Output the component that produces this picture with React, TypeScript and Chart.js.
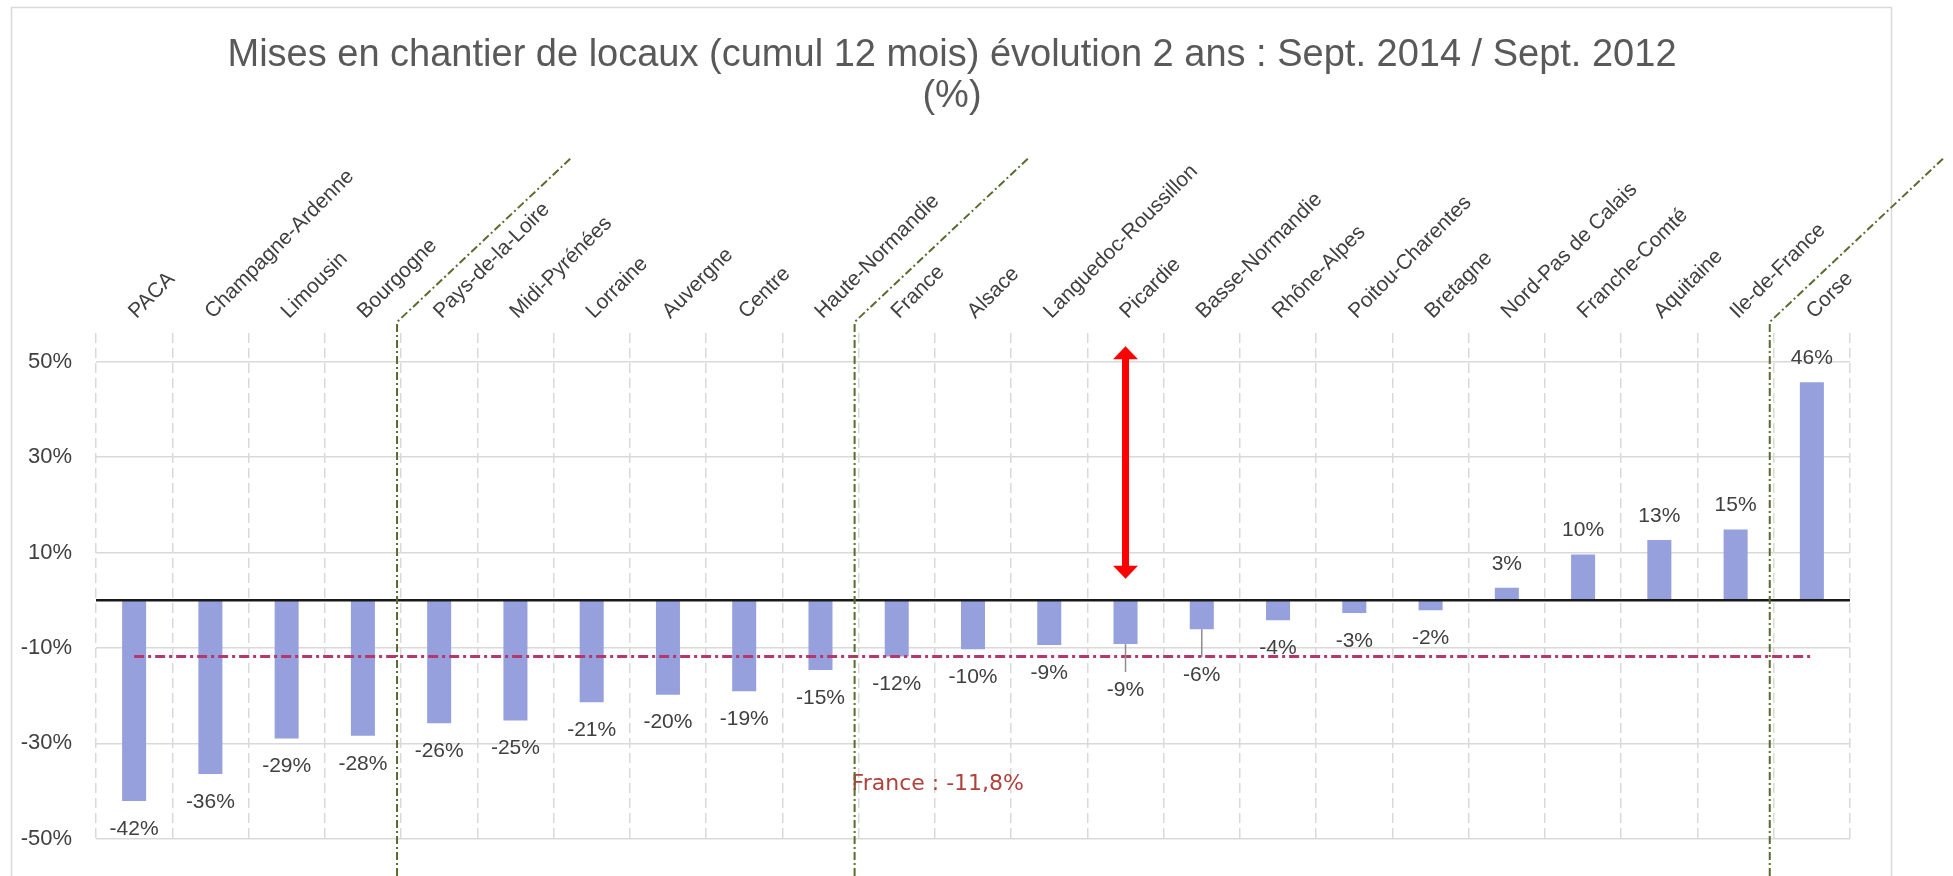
import React, { useEffect, useRef } from 'react';
import { Chart, registerables } from 'chart.js';

Chart.register(...registerables);

const categories = [
  'PACA', 'Champagne-Ardenne', 'Limousin', 'Bourgogne', 'Pays-de-la-Loire', 'Midi-Pyrénées',
  'Lorraine', 'Auvergne', 'Centre', 'Haute-Normandie', 'France', 'Alsace', 'Languedoc-Roussillon',
  'Picardie', 'Basse-Normandie', 'Rhône-Alpes', 'Poitou-Charentes', 'Bretagne', 'Nord-Pas de Calais',
  'Franche-Comté', 'Aquitaine', 'Ile-de-France', 'Corse',
];
const values = [
  -42.1, -36.4, -29.0, -28.4, -25.8, -25.2, -21.4, -19.8, -19.1, -14.6, -11.8, -10.3, -9.4,
  -9.2, -6.1, -4.2, -2.7, -2.1, 2.6, 9.6, 12.6, 14.8, 45.7,
];
const yTicks = [-50, -30, -10, 10, 30, 50];
const franceAverage = -11.8;
const franceLabel = 'France : -11,8%';
const franceLabelLevel = -38.5;
const separatorsAfter = ['Bourgogne', 'Haute-Normandie', 'Ile-de-France'];
const leaderLabelCats = ['Picardie', 'Basse-Normandie'];
const arrowCategory = 'Picardie';
const arrowRange = [4.5, 53.2];
const titleLines = [
  'Mises en chantier de locaux (cumul 12 mois) évolution 2 ans : Sept. 2014 / Sept. 2012',
  '(%)',
];

const FONT = '"Liberation Sans", Arial, sans-serif';

const overlayPlugin = {
  id: 'overlay',
  beforeDraw(chart: any) {
    const { ctx } = chart;
    ctx.save();
    // frame
    ctx.strokeStyle = '#d9d9d9';
    ctx.lineWidth = 1.5;
    ctx.strokeRect(11.5, 7.5, 1880, 900);
    // title
    ctx.fillStyle = '#595959';
    ctx.font = `38px ${FONT}`;
    ctx.textAlign = 'center';
    ctx.textBaseline = 'alphabetic';
    ctx.fillText(titleLines[0], 952, 66);
    ctx.fillText(titleLines[1], 952, 107);
    ctx.restore();
  },
  afterDatasetsDraw(chart: any) {
    const { ctx, chartArea } = chart;
    const xs = chart.scales.x;
    const ys = chart.scales.y;
    const meta = chart.getDatasetMeta(0);
    ctx.save();

    // zero line
    const y0 = ys.getPixelForValue(0);
    ctx.strokeStyle = '#1a1a1a';
    ctx.lineWidth = 2.5;
    ctx.beginPath();
    ctx.moveTo(chartArea.left, y0);
    ctx.lineTo(chartArea.right, y0);
    ctx.stroke();

    // France average line
    const yf = ys.getPixelForValue(franceAverage);
    ctx.strokeStyle = '#B4386C';
    ctx.lineWidth = 3;
    ctx.setLineDash([10, 4, 3, 4]);
    ctx.beginPath();
    ctx.moveTo(xs.getPixelForValue(0), yf);
    ctx.lineTo(xs.getPixelForValue(categories.length - 1), yf);
    ctx.stroke();
    ctx.setLineDash([]);

    // France label
    const fi = categories.indexOf('France');
    const fx = (xs.getPixelForValue(fi - 1) + xs.getPixelForValue(fi)) / 2 - 7;
    ctx.fillStyle = '#B0403A';
    ctx.font = `22px "DejaVu Sans", sans-serif`;
    ctx.textAlign = 'left';
    ctx.textBaseline = 'middle';
    ctx.fillText(franceLabel, fx, ys.getPixelForValue(franceLabelLevel));

    // data labels
    ctx.font = `21px ${FONT}`;
    ctx.textAlign = 'center';
    ctx.textBaseline = 'middle';
    values.forEach((v, i) => {
      const el = meta.data[i];
      const x = el.x;
      const yEnd = el.y;
      const txt = Math.round(v) + '%';
      const leader = leaderLabelCats.includes(categories[i]);
      let yc;
      if (v >= 0) {
        yc = yEnd - 24;
      } else if (leader) {
        yc = yEnd + 46;
        ctx.strokeStyle = '#8c8c8c';
        ctx.lineWidth = 1.5;
        ctx.beginPath();
        ctx.moveTo(x, yEnd);
        ctx.lineTo(x, yEnd + 28);
        ctx.stroke();
      } else {
        yc = yEnd + 28;
      }
      ctx.fillStyle = '#404040';
      ctx.fillText(txt, x, yc);
    });

    // green separators
    ctx.strokeStyle = '#5B6B2F';
    ctx.lineWidth = 2;
    ctx.setLineDash([8, 3, 2, 3]);
    separatorsAfter.forEach((c) => {
      const idx = categories.indexOf(c);
      const xb = (xs.getPixelForValue(idx) + xs.getPixelForValue(idx + 1)) / 2 - 4;
      const yc = chartArea.top - 11;
      ctx.beginPath();
      ctx.moveTo(xb, chart.height);
      ctx.lineTo(xb, yc);
      ctx.lineTo(xb + 175, yc - 165);
      ctx.stroke();
    });
    ctx.setLineDash([]);

    // red double arrow
    const ai = categories.indexOf(arrowCategory);
    const ax = xs.getPixelForValue(ai);
    const yb = ys.getPixelForValue(arrowRange[0]);
    const yt = ys.getPixelForValue(arrowRange[1]);
    const hw = 12.5;
    const hh = 13;
    ctx.strokeStyle = '#FF0000';
    ctx.fillStyle = '#FF0000';
    ctx.lineWidth = 7;
    ctx.beginPath();
    ctx.moveTo(ax, yt + hh - 1);
    ctx.lineTo(ax, yb - hh + 1);
    ctx.stroke();
    ctx.beginPath();
    ctx.moveTo(ax, yt);
    ctx.lineTo(ax + hw, yt + hh);
    ctx.lineTo(ax - hw, yt + hh);
    ctx.closePath();
    ctx.fill();
    ctx.beginPath();
    ctx.moveTo(ax, yb);
    ctx.lineTo(ax + hw, yb - hh);
    ctx.lineTo(ax - hw, yb - hh);
    ctx.closePath();
    ctx.fill();

    ctx.restore();
  },
};

export default function App() {
  const ref = useRef<HTMLCanvasElement>(null);
  useEffect(() => {
    if (!ref.current) return;
    const chart = new Chart(ref.current, {
      type: 'bar',
      data: {
        labels: categories,
        datasets: [
          {
            data: values,
            backgroundColor: '#96A0DC',
            barPercentage: 0.315,
            categoryPercentage: 1,
          },
        ],
      },
      options: {
        responsive: false,
        animation: false,
        devicePixelRatio: 1,
        layout: { padding: { top: 133, right: 103, bottom: 19, left: 0 } },
        plugins: {
          legend: { display: false },
          title: { display: false },
          tooltip: { enabled: false },
        },
        scales: {
          x: {
            position: 'top',
            offset: true,
            grid: { offset: true, color: '#d9d9d9', lineWidth: 1.5, drawTicks: false },
            border: { display: false, dash: [10, 5] },
            ticks: {
              autoSkip: false,
              minRotation: 45,
              maxRotation: 45,
              padding: 9,
              labelOffset: 16,
              color: '#404040',
              font: { size: 21, family: FONT },
            },
            afterFit: (s: any) => {
              s.height = 200;
            },
          },
          y: {
            min: -50,
            max: 56,
            afterBuildTicks: (s: any) => {
              s.ticks = yTicks.map((v) => ({ value: v }));
            },
            grid: { color: '#d9d9d9', lineWidth: 1.5, drawTicks: false },
            border: { display: false },
            ticks: {
              padding: 24,
              color: '#404040',
              font: { size: 22, family: FONT },
              callback: (v: any) => v + '%',
            },
            afterFit: (s: any) => {
              s.width = 96;
            },
          },
        },
      } as any,
      plugins: [overlayPlugin],
    });
    return () => chart.destroy();
  }, []);
  return (
    <div style={{ position: 'absolute', left: 0, top: 0, width: 1953, height: 876, background: '#fff' }}>
      <canvas ref={ref} width={1953} height={876} style={{ display: 'block' }} />
    </div>
  );
}
